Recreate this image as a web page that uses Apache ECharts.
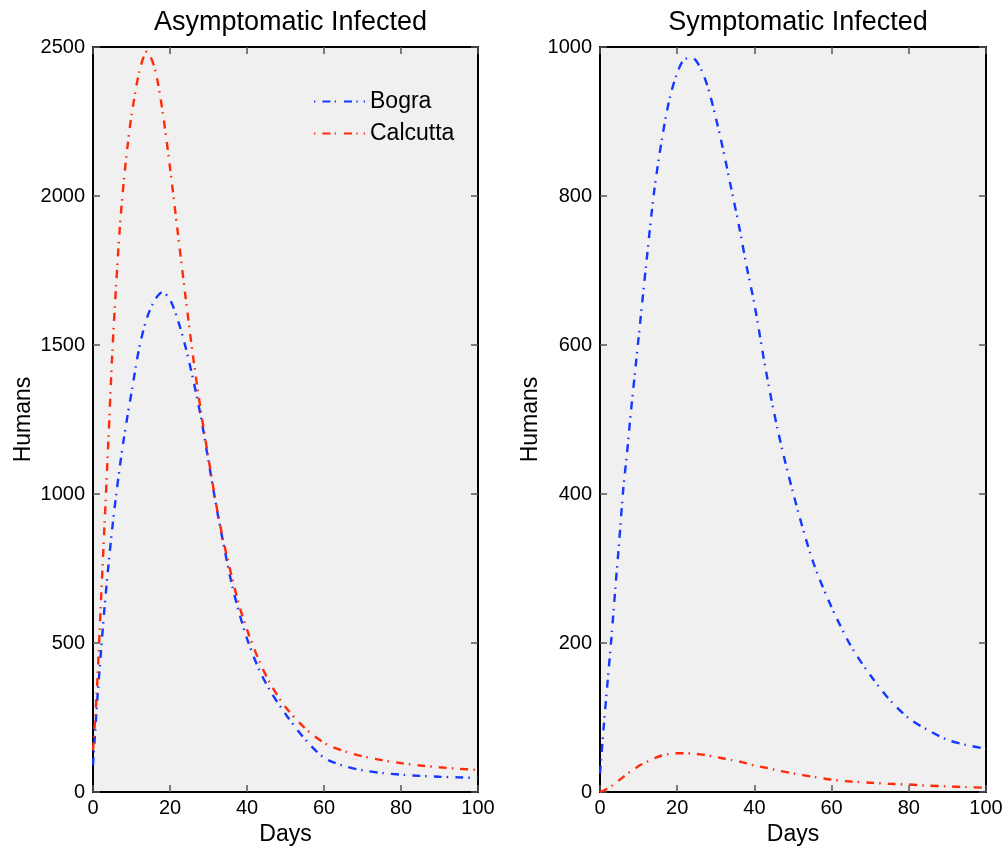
<!DOCTYPE html>
<html>
<head>
<meta charset="utf-8">
<script src="https://cdn.jsdelivr.net/npm/echarts@6/dist/echarts.min.js"></script>
<style>
html,body{margin:0;padding:0;background:#fff;}
#chart{width:1008px;height:851px;}
</style>
</head>
<body>
<div id="chart"></div>
<script>
var days = [0,1,2,3,4,5,6,7,8,9,10,12,14,16,18,20,22,24,26,28,30,32,34,36,38,40,43,46,50,55,60,65,70,75,80,85,90,95,100];
var bograAsym = [90,290,460,620,760,885,995,1095,1185,1265,1340,1490,1590,1650,1677,1652,1585,1495,1385,1260,1110,960,825,700,600,515,415,340,262,178,115,88,73,64,58,54,51,49,47];
var calcuttaAsym = [140,340,620,900,1180,1470,1700,1900,2050,2170,2270,2415,2484,2430,2290,2095,1880,1665,1460,1280,1120,965,835,725,625,545,445,365,285,215,165,138,120,107,97,89,83,78,74];
var bograSym = [25,90,150,210,275,338,405,455,510,560,610,710,805,875,930,965,984,985,972,945,905,860,810,760,705,655,565,487,402,312,248,196,157,124,99,83,70,63,58];
var calcuttaSym = [0,2,5,8,12,16,20,24,28,31,35,40,45,49,51,52,52,51.5,50.5,49,47,45,43,41,38.5,35.5,32.5,29,25,20.5,16.5,14,12.5,11,10,8.5,7.5,6.5,5.8];
var titles = ['Asymptomatic Infected','Symptomatic Infected'];
var seriesNames = ['Bogra','Calcutta'];
var xTicks = {min:0,max:100,interval:20};
var yTicks = [{min:0,max:2500,interval:500},{min:0,max:1000,interval:200}];

var BLUE = '#1438ff', RED = '#ff2a0a';
var FONT = "'Liberation Sans', Arial, Helvetica, sans-serif";
function pairs(xs, ys){ return xs.map(function(x,i){return [x, ys[i]];}); }

var grids = [
  {left:93, top:47, width:385, height:745},
  {left:600, top:47, width:386, height:745}
];
var xAxes = [], yAxes = [];
grids.forEach(function(g, gi){
  g.show = true; g.backgroundColor = '#f0f0f0'; g.borderWidth = 0;
  ['bottom','top'].forEach(function(pos){
    xAxes.push({
      type:'value', gridIndex:gi, position:pos, min:xTicks.min, max:xTicks.max, interval:xTicks.interval,
      axisLine:{show:true, onZero:false, lineStyle:{color:'#000', width:2}},
      axisTick:{show:true, inside:true, length:7, lineStyle:{color:'#555', width:1.5}},
      axisLabel:{show:pos==='bottom', color:'#000', fontSize:20, fontFamily:FONT, margin:6,
        formatter:function(v){return String(v);}},
      splitLine:{show:false},
      name: pos==='bottom' ? 'Days' : '', nameLocation:'middle', nameGap:29,
      nameTextStyle:{color:'#000', fontSize:23, fontFamily:FONT}
    });
  });
  ['left','right'].forEach(function(pos){
    yAxes.push({
      type:'value', gridIndex:gi, position:pos, min:yTicks[gi].min, max:yTicks[gi].max, interval:yTicks[gi].interval,
      axisLine:{show:true, onZero:false, lineStyle:{color:'#000', width:2}},
      axisTick:{show:true, inside:true, length:7, lineStyle:{color:'#555', width:1.5}},
      axisLabel:{show:pos==='left', color:'#000', fontSize:20, fontFamily:FONT, margin:8,
        formatter:function(v){return String(v);}},
      splitLine:{show:false},
      name: pos==='left' ? 'Humans' : '', nameLocation:'middle', nameGap:58, nameRotate:90,
      nameTextStyle:{color:'#000', fontSize:23, fontFamily:FONT}
    });
  });
});

var dash = [8,5,1.5,7];
function mk(name, gi, data, color){
  return {
    name:name, type:'line', xAxisIndex:gi*2, yAxisIndex:gi*2, data:data,
    showSymbol:false, symbol:'none', smooth:0.3, animation:false,
    lineStyle:{color:color, width:2.4, type:dash}, itemStyle:{color:color}
  };
}
var legendIcon = 'path://M0,0H1.3V2H0Z M8.4,0H16.4V2H8.4Z M20.7,0H22V2H20.7Z M30,0H38V2H30Z M42.3,0H43.6V2H42.3Z M49.7,0H51V2H49.7Z';

var chart = echarts.init(document.getElementById('chart'), null, {renderer:'canvas'});
chart.setOption({
  animation:false,
  backgroundColor:'#fff',
  title: titles.map(function(t, i){
    return {text:t, left: i===0 ? 285.5 : 793, top:4, textAlign:'center',
      textStyle:{fontSize:27, fontWeight:'normal', color:'#000', fontFamily:FONT}};
  }),
  legend:{
    data:seriesNames.map(function(n){return {name:n, icon:legendIcon};}),
    orient:'vertical', left:309, top:85, itemWidth:51, itemHeight:2.5, itemGap:9,
    textStyle:{fontSize:23, color:'#000', fontFamily:FONT}, backgroundColor:'transparent',
    selectedMode:false
  },
  grid:grids,
  xAxis:xAxes,
  yAxis:yAxes,
  series:[
    mk(seriesNames[0], 0, pairs(days, bograAsym), BLUE),
    mk(seriesNames[1], 0, pairs(days, calcuttaAsym), RED),
    mk(seriesNames[0], 1, pairs(days, bograSym), BLUE),
    mk(seriesNames[1], 1, pairs(days, calcuttaSym), RED)
  ]
});
</script>
</body>
</html>
